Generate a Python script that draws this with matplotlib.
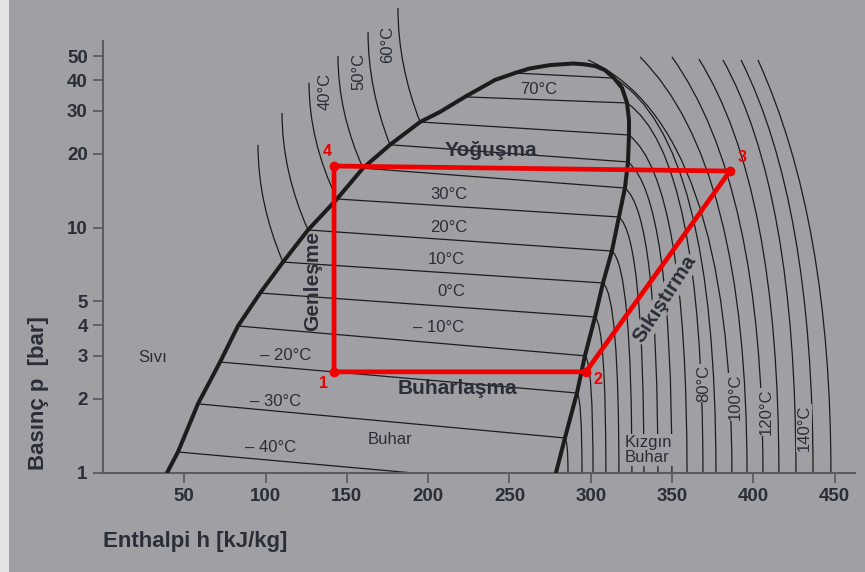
import numpy as np
import matplotlib
matplotlib.use('Agg')
import matplotlib.pyplot as plt
from matplotlib.path import Path
from matplotlib.patches import PathPatch, Rectangle
from matplotlib.ticker import NullLocator

plt.rcParams['font.family'] = ['Liberation Sans', 'DejaVu Sans']

BG = '#a0a0a4'
INK = '#1c1c1c'
TXT = '#2b2d38'
AXC = '#5c5c5e'
RED = '#ee0000'
W, H = 865, 572

# saturation dome, h [kJ/kg], p [bar]
liq_h = [39.4, 46.1, 58.4, 72.0, 83.0, 96.6, 110.7, 126.1, 143.9, 159.9, 176.5,
         195.0, 207.3, 222.6, 241.1, 253.4, 262.0, 274.9, 289.1]
liq_p = [1.0, 1.215, 1.91, 2.83, 3.97, 5.41, 7.24, 9.79, 13.1, 17.5, 21.8,
         27.0, 29.7, 34.2, 40.1, 42.8, 44.6, 46.1, 46.8]
vap_h = [289.1, 296.4, 302.6, 308.7, 314.3, 319.2, 322.3, 323.5, 323.5, 322.9, 321.0, 317.3,
         313.0, 307.5, 302.6, 296.4, 291.5, 284.1, 278.6]
vap_p = [46.8, 46.4, 45.7, 44.0, 40.8, 37.2, 32.3, 27.5, 23.9, 18.55, 14.52, 11.06,
         8.03, 5.95, 4.32, 3.0, 2.115, 1.386, 1.0]

# isotherms inside the dome
iso_T = [-40, -30, -20, -10, 0, 10, 20, 30, 40, 50, 60, 70, 80]
iso_hL = [46.1, 58.4, 72.0, 83.0, 96.6, 110.7, 126.1, 143.9, 159.9, 176.5, 195.0, 222.6, 253.4]
iso_pL = [1.215, 1.91, 2.83, 3.97, 5.41, 7.24, 9.79, 13.1, 17.5, 21.8, 27.0, 34.2, 42.8]
iso_hR = [188.8, 284.1, 291.5, 296.4, 302.6, 307.5, 313.0, 317.3, 321.0, 322.9, 323.5, 322.3, 314.3]
iso_pR = [1.0, 1.386, 2.115, 3.0, 4.32, 5.95, 8.03, 11.06, 14.52, 18.55, 23.9, 32.3, 40.8]

# liquid side isotherms (start at the dome, end at top)
liq_T = [10, 20, 30, 40, 50, 60]
liq_top_h = [95.3, 110.1, 126.7, 144.5, 163.0, 181.4]
liq_top_p = [21.8, 29.4, 39.0, 50.2, 62.9, 78.8]

# superheated isotherms: start point, end enthalpy at p = 1 bar, start steepness
sh_h0 = iso_hR[1:] + [298.3, 330.3, 349.9, 366.5, 381.3, 392.4, 402.8]
sh_p0 = iso_pR[1:] + [48.4, 49.8, 49.8, 48.8, 48.4, 48.4, 48.4]
sh_h1 = [286.0, 294.6, 301.4, 309.3, 317.3, 325.3, 332.7, 341.3, 349.9, 359.2, 369.0, 377.0,
         386.8, 396.1, 405.9, 415.7, 426.2, 436.7, 447.7]
sh_k = [0.8] * 10 + [0.7, 0.6] + [0.45, 1.0, 1.4, 1.6, 1.8, 2.0, 2.2]

# refrigeration cycle 1-2-3-4
cyc_h = [142.1, 297.0, 385.6, 142.1]
cyc_p = [2.58, 2.58, 17.03, 17.86]
cyc_lab = ['1', '2', '3', '4']

x_ticks = [50, 100, 150, 200, 250, 300, 350, 400, 450]
y_ticks = [1, 2, 3, 4, 5, 10, 20, 30, 40, 50]

fig = plt.figure(figsize=(W / 100, H / 100), dpi=100, facecolor=BG)
fig.patches.append(Rectangle((0, 0), 9 / W, 1, transform=fig.transFigure,
                             facecolor='#e4e4e6', edgecolor='none'))
ax = fig.add_axes([103 / W, 1 - 472.7 / H, 752 / W, 472.7 / H])
ax.set_facecolor('none')
ax.set_yscale('log')
ax.set_xlim(0, 462.5)
ax.set_ylim(1, 85)

for s in ['top', 'right']:
    ax.spines[s].set_visible(False)
for s in ['left', 'bottom']:
    ax.spines[s].set_color(AXC)
    ax.spines[s].set_linewidth(1.5)
ax.spines['left'].set_bounds(1, 57.8)

ax.set_xticks(x_ticks)
ax.set_xticklabels([str(v) for v in x_ticks], fontweight='bold')
ax.set_yticks(y_ticks)
ax.set_yticklabels([str(v) for v in y_ticks], fontweight='bold')
ax.yaxis.set_minor_locator(NullLocator())
ax.tick_params(direction='out', length=7, width=1.3, color=AXC,
               labelsize=13.5, labelcolor=TXT, pad=4)


def curve(p0, p1, p2, lw=0.9):
    path = Path([p0, p1, p2], [Path.MOVETO, Path.CURVE3, Path.CURVE3])
    ax.add_patch(PathPatch(path, fill=False, lw=lw, ec=INK))


def bend_ctrl(h0, p0, h1, k):
    x0, y0 = ax.transData.transform((h0, p0))
    x1 = ax.transData.transform((h1, p0))[0]
    return ax.transData.inverted().transform((x1, y0 - k * (x1 - x0)))


# two-phase lines
for hl, pl, hr, pr in zip(iso_hL, iso_pL, iso_hR, iso_pR):
    ax.plot([hl, hr], [pl, pr], color=INK, lw=0.9)

# liquid lines
for i, T in enumerate(liq_T):
    j = iso_T.index(T)
    hb, pb = iso_hL[j], iso_pL[j]
    ht, pt = liq_top_h[i], liq_top_p[i]
    curve((hb, pb), (ht, np.sqrt(pb * pt)), (ht, pt))

# superheated lines
for h0, p0, h1, k in zip(sh_h0, sh_p0, sh_h1, sh_k):
    c = bend_ctrl(h0, p0, h1, k)
    curve((h0, p0), tuple(c), (h1, 0.99))

# dome
ax.plot(liq_h + vap_h[1:], liq_p + vap_p[1:], color=INK, lw=2.9,
        solid_joinstyle='round', solid_capstyle='round', zorder=4)

# cycle
ax.plot(cyc_h + cyc_h[:1], cyc_p + cyc_p[:1], color=RED, lw=3.4, zorder=5,
        solid_joinstyle='round')
ax.plot(cyc_h, cyc_p, 'o', color=RED, ms=6, zorder=6)


def put(x, y, s, **kw):
    kw.setdefault('color', TXT)
    kw.setdefault('va', 'center')
    kw.setdefault('ha', 'center')
    kw.setdefault('fontsize', 12)
    return fig.text(x / W, 1 - y / H, s, **kw)


mask = dict(facecolor=BG, edgecolor='none', pad=0.6)

put(539, 89, '70°C')
put(430, 195, '30°C', ha='left')
put(430, 228, '20°C', ha='left')
put(428, 259, '10°C', ha='left')
put(437, 292, '0°C', ha='left')
put(413, 327, '– 10°C', ha='left')
put(260, 356, '– 20°C', ha='left')
put(250, 401, '– 30°C', ha='left')
put(245, 448, '– 40°C', ha='left')
put(325, 91, '40°C', rotation=90)
put(359, 71, '50°C', rotation=90)
put(388, 44, '60°C', rotation=90)
put(704, 383, '80°C', rotation=90, bbox=mask)
put(735, 397, '100°C', rotation=90, bbox=mask)
put(766, 412, '120°C', rotation=90, bbox=mask)
put(804, 428, '140°C', rotation=90, bbox=mask)
put(153, 358, 'Sıvı')
put(390, 439, 'Buhar')
put(625, 450, 'Kızgın\nBuhar', ha='left', linespacing=1.05, bbox=mask)

put(491, 150, 'Yoğuşma', fontsize=15, fontweight='bold')
put(457, 389, 'Buharlaşma', fontsize=15, fontweight='bold')
put(313, 281, 'Genleşme', fontsize=15, fontweight='bold', rotation=90)
put(665, 299, 'Sıkıştırma', fontsize=15, fontweight='bold', rotation=57,
    bbox=mask, rotation_mode='anchor')

put(103, 541, 'Enthalpi h [kJ/kg]', ha='left', fontsize=16, fontweight='bold')
put(39, 393, 'Basınç p  [bar]', rotation=90, fontsize=16, fontweight='bold')

for lab, (x, y) in zip(cyc_lab, [(323, 384), (598, 379), (742, 158), (327, 151)]):
    put(x, y, lab, color=RED, fontsize=11.5, fontweight='bold')

fig.savefig('out.png', dpi=100, facecolor=BG)
